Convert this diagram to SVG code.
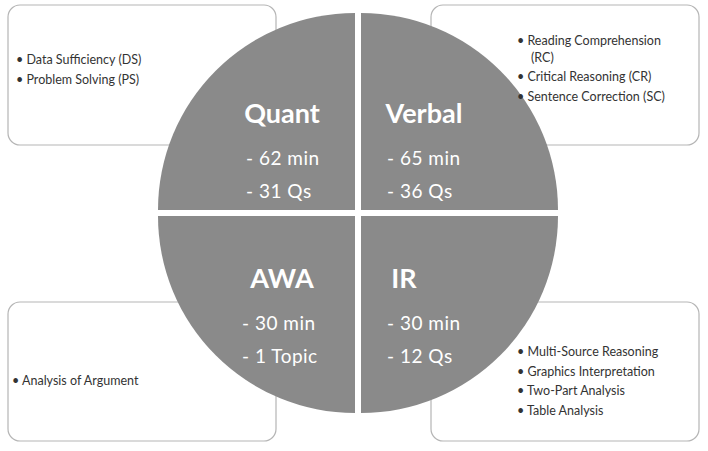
<svg xmlns="http://www.w3.org/2000/svg" width="708" height="451" viewBox="0 0 708 451">
<style>
.box{fill:#fff;stroke:#b5b5b5;stroke-width:1.2}
.q{fill:#8a8a8a}
.t{font-family:"Lato","Liberation Sans",sans-serif;fill:#fff;font-weight:bold;font-size:27px;text-anchor:middle}
.s{font-family:"Lato","Liberation Sans",sans-serif;fill:#fff;font-size:19px;letter-spacing:0.5px}
.b{font-family:"Lato","Liberation Sans",sans-serif;fill:#333;font-size:12.5px}
</style>
<rect width="708" height="451" fill="#fff"/>
<g id="boxes">
<rect class="box" x="8" y="5" width="268" height="140" rx="12"/>
<rect class="box" x="431" y="5" width="268" height="140" rx="12"/>
<rect class="box" x="8" y="302" width="268" height="139" rx="12"/>
<rect class="box" x="431" y="302" width="268" height="139" rx="12"/>
</g>
<g id="quant">
<path class="q" d="M355,210 L355,13 A197,197 0 0 0 158,210 Z"/>
<text class="t" x="282" y="123">Quant</text>
<text class="s" x="246" y="165">- 62 min</text>
<text class="s" x="246" y="198">- 31 Qs</text>
</g>
<g id="verbal">
<path class="q" d="M361,210 L361,13 A197,197 0 0 1 558,210 Z"/>
<text class="t" x="424" y="123">Verbal</text>
<text class="s" x="387" y="165">- 65 min</text>
<text class="s" x="387" y="198">- 36 Qs</text>
</g>
<g id="awa">
<path class="q" d="M355,216 L355,413 A197,197 0 0 1 158,216 Z"/>
<text class="t" x="282" y="288">AWA</text>
<text class="s" x="242" y="330">- 30 min</text>
<text class="s" x="242" y="363">- 1 Topic</text>
</g>
<g id="ir">
<path class="q" d="M361,216 L361,413 A197,197 0 0 0 558,216 Z"/>
<text class="t" x="404" y="288">IR</text>
<text class="s" x="387" y="330">- 30 min</text>
<text class="s" x="387" y="363">- 12 Qs</text>
</g>
<g id="lists">
<text class="b" x="16" y="64">•  Data Sufficiency (DS)</text>
<text class="b" x="16" y="84">•  Problem Solving (PS)</text>
<text class="b" x="517" y="45">•  Reading Comprehension</text>
<text class="b" x="531" y="62">(RC)</text>
<text class="b" x="517" y="81">•  Critical Reasoning (CR)</text>
<text class="b" x="517" y="101">•  Sentence Correction (SC)</text>
<text class="b" x="12" y="385">•  Analysis of Argument</text>
<text class="b" x="517" y="356">•  Multi-Source Reasoning</text>
<text class="b" x="517" y="376">•  Graphics Interpretation</text>
<text class="b" x="517" y="395">•  Two-Part Analysis</text>
<text class="b" x="517" y="415">•  Table Analysis</text>
</g>
</svg>
